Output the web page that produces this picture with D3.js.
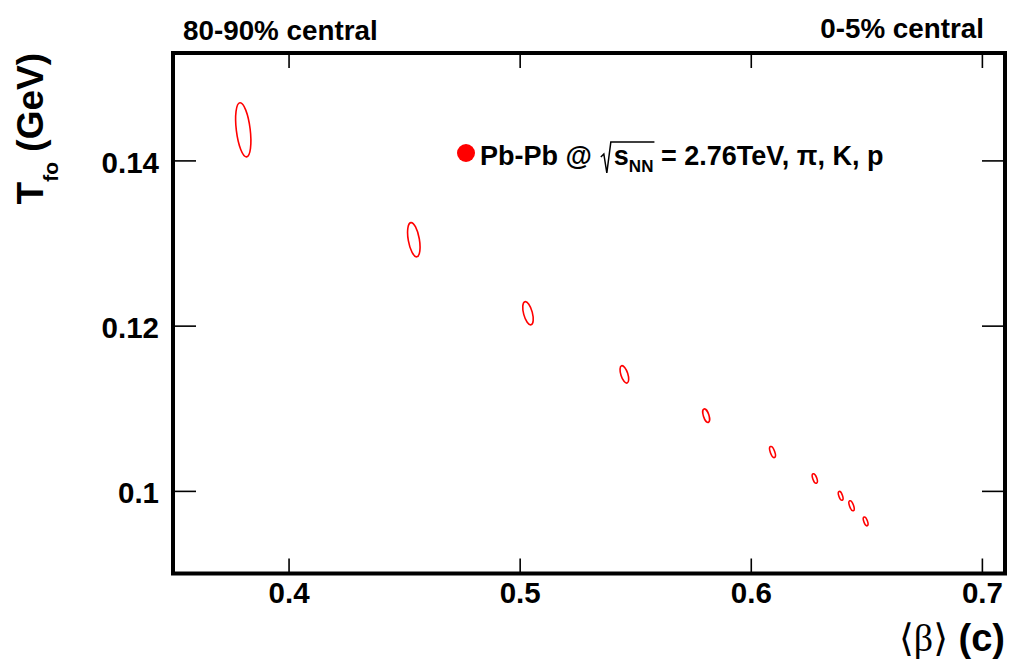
<!DOCTYPE html>
<html>
<head>
<meta charset="utf-8">
<script src="https://cdn.jsdelivr.net/npm/d3@7"></script>
<style>
  body { margin: 0; background: #fff; }
  svg text { font-family: "Liberation Sans", Arial, sans-serif; font-weight: bold; white-space: pre; }
</style>
</head>
<body>
<svg id="chart" width="1010" height="660"></svg>
<script>
// freeze-out temperature vs mean flow velocity, centrality bins from 80-90% down to 0-5%
const beta = [0.3804, 0.4542, 0.5036, 0.5453, 0.5807, 0.6094, 0.6277, 0.6389, 0.6436, 0.6497];
const tfo = [0.1437, 0.1304, 0.1215, 0.1141, 0.1091, 0.1047, 0.1015, 0.0994, 0.0982, 0.0963];
// 1-sigma contour half widths and tilt (deg)
const errBeta = [0.0030, 0.0024, 0.0019, 0.0015, 0.0012, 0.00095, 0.00086, 0.00078, 0.00086, 0.00078];
const errT = [0.0033, 0.0021, 0.00145, 0.0011, 0.00085, 0.0007, 0.0006, 0.00056, 0.00064, 0.00056];
const tilt = [-7, -10, -15, -18, -18, -20, -20, -20, -20, -20];

const xTicks = [0.4, 0.5, 0.6, 0.7];
const yTicks = [0.1, 0.12, 0.14];

let svg = d3.select("#chart");
let mLeft = 173, mRight = 1005, mTop = 53, mBottom = 573.5;

let x = d3.scaleLinear().domain([0.35, 0.71]).range([mLeft, mRight]);
let y = d3.scaleLinear().domain([0.09, 0.153]).range([mBottom, mTop]);

let data = beta.map((b, i) => ({b: b, t: tfo[i], eb: errBeta[i], et: errT[i], a: tilt[i]}));

// axes, ticks pointing inwards
let gx = svg.append("g")
    .attr("transform", `translate(0,${mBottom})`)
    .call(d3.axisBottom(x).tickValues(xTicks).tickSizeInner(-15).tickSizeOuter(0)
        .tickPadding(9).tickFormat(d3.format(".1f")));
let gxTop = svg.append("g")
    .attr("transform", `translate(0,${mTop})`)
    .call(d3.axisTop(x).tickValues(xTicks).tickSizeInner(-15).tickSizeOuter(0).tickFormat(""));
let gy = svg.append("g")
    .attr("transform", `translate(${mLeft},0)`)
    .call(d3.axisLeft(y).tickValues(yTicks).tickSizeInner(-23).tickSizeOuter(0)
        .tickPadding(14).tickFormat(d => d === 0.1 ? "0.1" : d3.format(".2f")(d)));
let gyRight = svg.append("g")
    .attr("transform", `translate(${mRight},0)`)
    .call(d3.axisRight(y).tickValues(yTicks).tickSizeInner(-23).tickSizeOuter(0).tickFormat(""));

[gx, gxTop, gy, gyRight].forEach(g => {
    g.select(".domain").remove();
    g.selectAll(".tick line").attr("stroke", "#000").attr("stroke-width", 1.6);
    g.selectAll("text").attr("font-size", 29.5).attr("fill", "#000")
        .attr("font-family", "Liberation Sans, Arial, sans-serif").attr("font-weight", "bold");
});
gy.selectAll("text").attr("dy", "0.41em");

// frame
svg.append("rect")
    .attr("x", mLeft).attr("y", mTop)
    .attr("width", mRight - mLeft).attr("height", mBottom - mTop)
    .attr("fill", "none").attr("stroke", "#000").attr("stroke-width", 4);

// contours
svg.append("g").selectAll("ellipse")
    .data(data)
    .join("ellipse")
    .attr("transform", d => `translate(${x(d.b)},${y(d.t)}) rotate(${d.a})`)
    .attr("rx", d => x(d.b + d.eb) - x(d.b))
    .attr("ry", d => y(d.t) - y(d.t + d.et))
    .attr("fill", "none")
    .attr("stroke", "#ff0000")
    .attr("stroke-width", 1.6);

// centrality labels
svg.append("text").attr("x", 183).attr("y", 40).attr("font-size", 27.8).text("80-90% central");
svg.append("text").attr("x", 984).attr("y", 38).attr("font-size", 27.8)
    .attr("text-anchor", "end").text("0-5% central");

// axis titles
let yt = svg.append("text")
    .attr("transform", "translate(43,53) rotate(-90)")
    .attr("text-anchor", "end").attr("font-size", 37);
yt.append("tspan").text("T");
yt.append("tspan").attr("font-size", 21).attr("dy", 15).text("fo");
yt.append("tspan").attr("dy", -15).text(" (GeV)");

let xt = svg.append("text")
    .attr("x", 1005).attr("y", 651).attr("text-anchor", "end").attr("font-size", 38);
xt.append("tspan").attr("font-family", "Liberation Serif, DejaVu Serif, serif")
    .attr("font-weight", "normal").text("\u27E8\u03B2\u27E9");
xt.append("tspan").text(" (c)");

// legend
let lx = 480, ly = 165;
svg.append("circle").attr("cx", 466).attr("cy", 153).attr("r", 9).attr("fill", "#ff0000");

function piece(str, opts) {
    let t = svg.append("text").attr("x", lx).attr("y", ly + (opts.dy || 0))
        .attr("font-size", opts.size || 27).text(str);
    if (opts.serif) t.attr("font-family", "Liberation Serif, DejaVu Serif, serif").attr("font-weight", "normal");
    let w = t.node().getComputedTextLength();
    lx += w;
    return w;
}
piece("Pb-Pb @", {});
lx += 9;
// radical sign
let r0 = lx;
lx += 13;
piece("s", {});
piece("NN", {size: 17, dy: 7});
svg.append("path")
    .attr("d", `M${r0},${ly - 8} L${r0 + 3},${ly - 11} L${r0 + 6},${ly + 8} L${r0 + 10},${ly - 23} L${lx + 1},${ly - 23}`)
    .attr("fill", "none").attr("stroke", "#000").attr("stroke-width", 1.5);
piece(" = 2.76TeV, ", {});
piece("\u03C0", {serif: true});
piece(", K, p", {});
</script>
</body>
</html>
